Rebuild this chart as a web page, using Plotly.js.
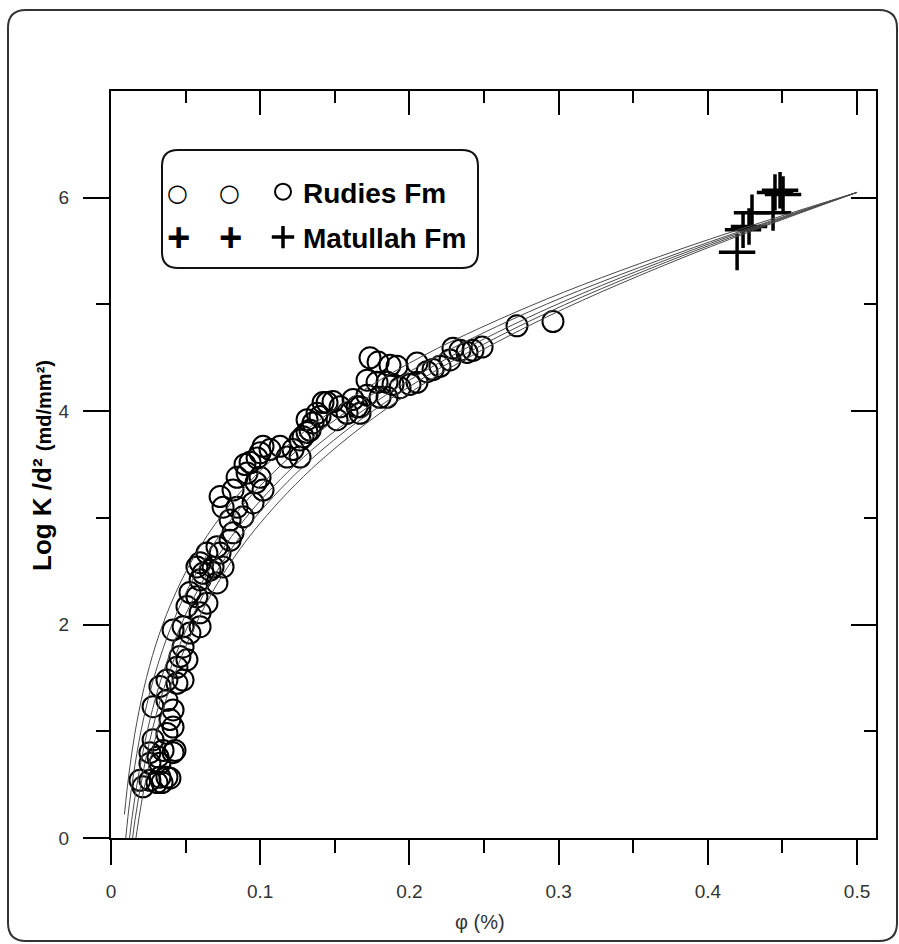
<!DOCTYPE html>
<html><head><meta charset="utf-8">
<script src="https://cdn.plot.ly/plotly-3.0.1.min.js"></script>
<style>html,body{margin:0;padding:0;background:#fff}#chart{width:899px;height:944px}</style>
</head><body><div id="chart"></div>
<script>
// ---- data ----
const rudiesPhi = [0.0194,0.0214,0.0261,0.0308,0.0328,0.0375,0.0261,0.0328,0.0261,0.0349,0.0416,0.0282,0.0375,0.0416,0.0395,0.0416,0.0282,0.0375,0.0328,0.0375,0.0442,0.0483,0.0442,0.0509,0.0462,0.0483,0.0416,0.0483,0.0529,0.0597,0.0597,0.0509,0.0643,0.0529,0.0576,0.0597,0.0710,0.0576,0.0664,0.0751,0.0342,0.0395,0.0429,0.0315,
0.0617,0.0597,0.0684,0.0643,0.0731,0.0710,0.0798,0.0818,0.0798,0.0885,0.0751,0.0845,0.0952,0.0731,0.0818,0.1019,0.0845,0.0912,0.0999,0.0972,0.0932,0.0979,0.0898,0.0999,0.1019,0.1066,0.1133,0.1180,0.1220,0.1267,0.1267,0.1314,0.1354,0.1401,0.1448,0.1515,0.1582,0.1622,0.1669,
0.1287,0.1334,0.1314,0.1381,0.1421,0.1488,0.1535,0.1649,0.1669,0.1716,0.1803,0.1850,0.1716,0.1783,0.1850,0.1890,0.1937,0.2004,0.2051,0.2118,0.2158,0.2205,0.2272,0.2292,0.2339,0.2386,0.2426,0.2487,0.1736,0.1790,0.1870,0.1917,0.2051,0.2721,0.2962];
const rudiesLogK = [0.54,0.48,0.54,0.52,0.57,0.57,0.70,0.70,0.80,0.82,0.80,0.92,0.98,1.04,1.11,1.20,1.23,1.29,1.42,1.48,1.45,1.48,1.60,1.67,1.70,1.79,1.95,1.98,1.92,1.98,2.11,2.17,2.20,2.30,2.26,2.42,2.39,2.54,2.51,2.54,0.52,0.56,0.82,0.76,
2.48,2.58,2.54,2.67,2.67,2.73,2.79,2.86,2.98,3.01,3.10,3.10,3.14,3.20,3.26,3.26,3.38,3.42,3.38,3.33,3.52,3.56,3.50,3.61,3.67,3.64,3.67,3.57,3.64,3.57,3.73,3.80,3.89,3.95,4.08,3.92,3.98,4.11,4.04,
3.76,3.82,3.92,3.98,4.08,4.09,4.04,4.04,3.98,4.15,4.13,4.13,4.29,4.27,4.27,4.25,4.22,4.25,4.27,4.37,4.39,4.42,4.48,4.59,4.57,4.55,4.57,4.60,4.50,4.46,4.43,4.42,4.45,4.80,4.84];

const matullahPhi  = [0.4196,0.4236,0.4276,0.4296,0.4437,0.4450,0.4484,0.4504];
const matullahLogK = [5.49,5.70,5.73,5.86,5.86,6.05,6.07,6.03];

// fitted curves
const curvePhi = [0.009,0.012,0.016,0.022,0.03,0.04,0.055,0.075,0.1,0.14,0.2,0.28,0.38,0.5];
const curveA = [0.22,0.60,0.98,1.40,1.81,2.19,2.62,3.04,3.44,3.92,4.45,4.98,5.51,6.05];
const curveB = [-0.13,0.28,0.68,1.13,1.56,1.97,2.43,2.88,3.30,3.81,4.37,4.93,5.48,6.05];
const curveC = [-0.48,-0.05,0.38,0.85,1.32,1.75,2.24,2.71,3.16,3.70,4.29,4.88,5.46,6.05];
const curveD = [-0.74,-0.29,0.16,0.65,1.14,1.59,2.09,2.59,3.06,3.62,4.23,4.84,5.44,6.05];
const curveE = [-1.00,-0.53,-0.07,0.45,0.95,1.43,1.95,2.47,2.95,3.53,4.17,4.80,5.42,6.05];
const curves = [curveA, curveB, curveC, curveD, curveE];

const xTickVals = [0,0.1,0.2,0.3,0.4,0.5];
const xTickText = ['0','0.1','0.2','0.3','0.4','0.5'];
const xMinorVals = [0.05,0.15,0.25,0.35,0.45];
const yTickVals = [0,2,4,6];
const yTickText = ['0','2','4','6'];
const yMinorVals = [1,3,5];

const seriesNames = ['Rudies Fm','Matullah Fm'];
const xTitle = 'φ (%)';

// ---- layout helpers (pixel -> paper) ----
const W = 899, H = 944, ML = 111, MR = 23, MT = 91, MB = 106;
const PW = W - ML - MR, PH = H - MT - MB;
const px = v => (v - ML) / PW;
const py = v => (H - MB - v) / PH;
function roundRect(x0, y0, x1, y1, r) {
  const P = (x, y) => px(x).toFixed(5) + ',' + py(y).toFixed(5);
  return 'M' + P(x0 + r, y0) + ' L' + P(x1 - r, y0) + ' Q' + P(x1, y0) + ' ' + P(x1, y0 + r) +
    ' L' + P(x1, y1 - r) + ' Q' + P(x1, y1) + ' ' + P(x1 - r, y1) +
    ' L' + P(x0 + r, y1) + ' Q' + P(x0, y1) + ' ' + P(x0, y1 - r) +
    ' L' + P(x0, y0 + r) + ' Q' + P(x0, y0) + ' ' + P(x0 + r, y0) + ' Z';
}

const FONT = 'Liberation Sans, Arial, Helvetica, sans-serif';

const traces = [];
curves.forEach(c => traces.push({
  x: curvePhi, y: c, type: 'scatter', mode: 'lines', xaxis: 'x2', yaxis: 'y2',
  line: {color: '#4a4a4a', width: 1, shape: 'spline', smoothing: 1},
  showlegend: false, hoverinfo: 'skip'
}));
traces.push({
  x: rudiesPhi, y: rudiesLogK, type: 'scatter', mode: 'markers', name: seriesNames[0], legendgroup: 'r',
  marker: {symbol: 'circle-open', size: 21, color: '#000', line: {width: 2, color: '#000'}},
  cliponaxis: false
});
traces.push({
  x: matullahPhi, y: matullahLogK, type: 'scatter', mode: 'markers', name: seriesNames[1], legendgroup: 'm',
  marker: {symbol: 'cross-thin-open', size: 26, color: '#000', line: {width: 3.5, color: '#000'}},
  cliponaxis: false
});

const axisCommon = {showgrid: false, zeroline: false, showline: true, linecolor: '#000', linewidth: 2,
  tickcolor: '#000', tickwidth: 2, tickfont: {family: FONT, size: 19, color: '#333'}};

const layout = {
  width: W, height: H,
  margin: {l: ML, r: MR, t: MT, b: MB, pad: 0},
  paper_bgcolor: '#fff', plot_bgcolor: 'rgba(0,0,0,0)',
  font: {family: FONT, color: '#000'},
  xaxis: Object.assign({}, axisCommon, {
    range: [0, 0.5127], tickmode: 'array', tickvals: xTickVals, ticktext: xTickText,
    ticks: 'outside', ticklen: 25, ticklabelstandoff: 10,
    minor: {tickmode: 'array', tickvals: xMinorVals, ticks: 'outside', ticklen: 13, tickwidth: 2, tickcolor: '#000'}
  }),
  xaxis2: Object.assign({}, axisCommon, {
    overlaying: 'x', side: 'top', anchor: 'y2', matches: 'x', range: [0, 0.5127],
    tickmode: 'array', tickvals: xTickVals, ticks: 'inside', ticklen: 24, showticklabels: false,
    minor: {tickmode: 'array', tickvals: xMinorVals, ticks: 'inside', ticklen: 12, tickwidth: 2, tickcolor: '#000'}
  }),
  yaxis: Object.assign({}, axisCommon, {
    range: [0, 7], tickmode: 'array', tickvals: yTickVals, ticktext: yTickText,
    ticks: 'outside', ticklen: 26, ticklabelstandoff: 10,
    minor: {tickmode: 'array', tickvals: yMinorVals, ticks: 'outside', ticklen: 13, tickwidth: 2, tickcolor: '#000'}
  }),
  yaxis2: Object.assign({}, axisCommon, {
    overlaying: 'y', side: 'right', anchor: 'x2', matches: 'y', range: [0, 7],
    tickmode: 'array', tickvals: yTickVals, ticks: 'inside', ticklen: 25, showticklabels: false,
    minor: {tickmode: 'array', tickvals: yMinorVals, ticks: 'inside', ticklen: 12, tickwidth: 2, tickcolor: '#000'}
  }),
  showlegend: true,
  legend: {
    x: px(263), xanchor: 'left', y: py(167), yanchor: 'top',
    bgcolor: 'rgba(0,0,0,0)', borderwidth: 0,
    font: {family: FONT, size: 28, weight: 'bold', color: '#000'},
    tracegroupgap: 6, traceorder: 'grouped'
  },
  shapes: [
    {type: 'path', xref: 'paper', yref: 'paper', path: roundRect(8, 10, 897, 941, 18),
     line: {color: '#333', width: 2}, fillcolor: 'rgba(0,0,0,0)', layer: 'below'},
    {type: 'path', xref: 'paper', yref: 'paper', path: roundRect(162, 150, 478, 268, 16),
     line: {color: '#111', width: 2}, fillcolor: 'rgba(0,0,0,0)', layer: 'above'}
  ],
  annotations: [
    {xref: 'paper', yref: 'paper', x: px(177), y: py(193), text: '○', showarrow: false,
     font: {family: 'DejaVu Sans', size: 24, color: '#000'}, xanchor: 'center', yanchor: 'middle'},
    {xref: 'paper', yref: 'paper', x: px(229), y: py(193), text: '○', showarrow: false,
     font: {family: 'DejaVu Sans', size: 24, color: '#000'}, xanchor: 'center', yanchor: 'middle'},
    {xref: 'paper', yref: 'paper', x: px(178), y: py(237), text: '<b>+</b>', showarrow: false,
     font: {family: FONT, size: 40, color: '#000'}, xanchor: 'center', yanchor: 'middle'},
    {xref: 'paper', yref: 'paper', x: px(230), y: py(237), text: '<b>+</b>', showarrow: false,
     font: {family: FONT, size: 40, color: '#000'}, xanchor: 'center', yanchor: 'middle'},
    {xref: 'paper', yref: 'paper', x: px(42), y: py(466), textangle: -90, showarrow: false,
     text: "<b>Log K /d²</b> <b><span style='font-size:20px'>(md/mm²)</span></b>",
     font: {family: FONT, size: 26, color: '#000'}, xanchor: 'center', yanchor: 'middle'},
    {xref: 'paper', yref: 'paper', x: px(480), y: py(922), text: xTitle, showarrow: false,
     font: {family: FONT, size: 20, color: '#333'}, xanchor: 'center', yanchor: 'middle'}
  ]
};

Plotly.newPlot('chart', traces, layout, {displayModeBar: false, staticPlot: true});
</script>
</body></html>
